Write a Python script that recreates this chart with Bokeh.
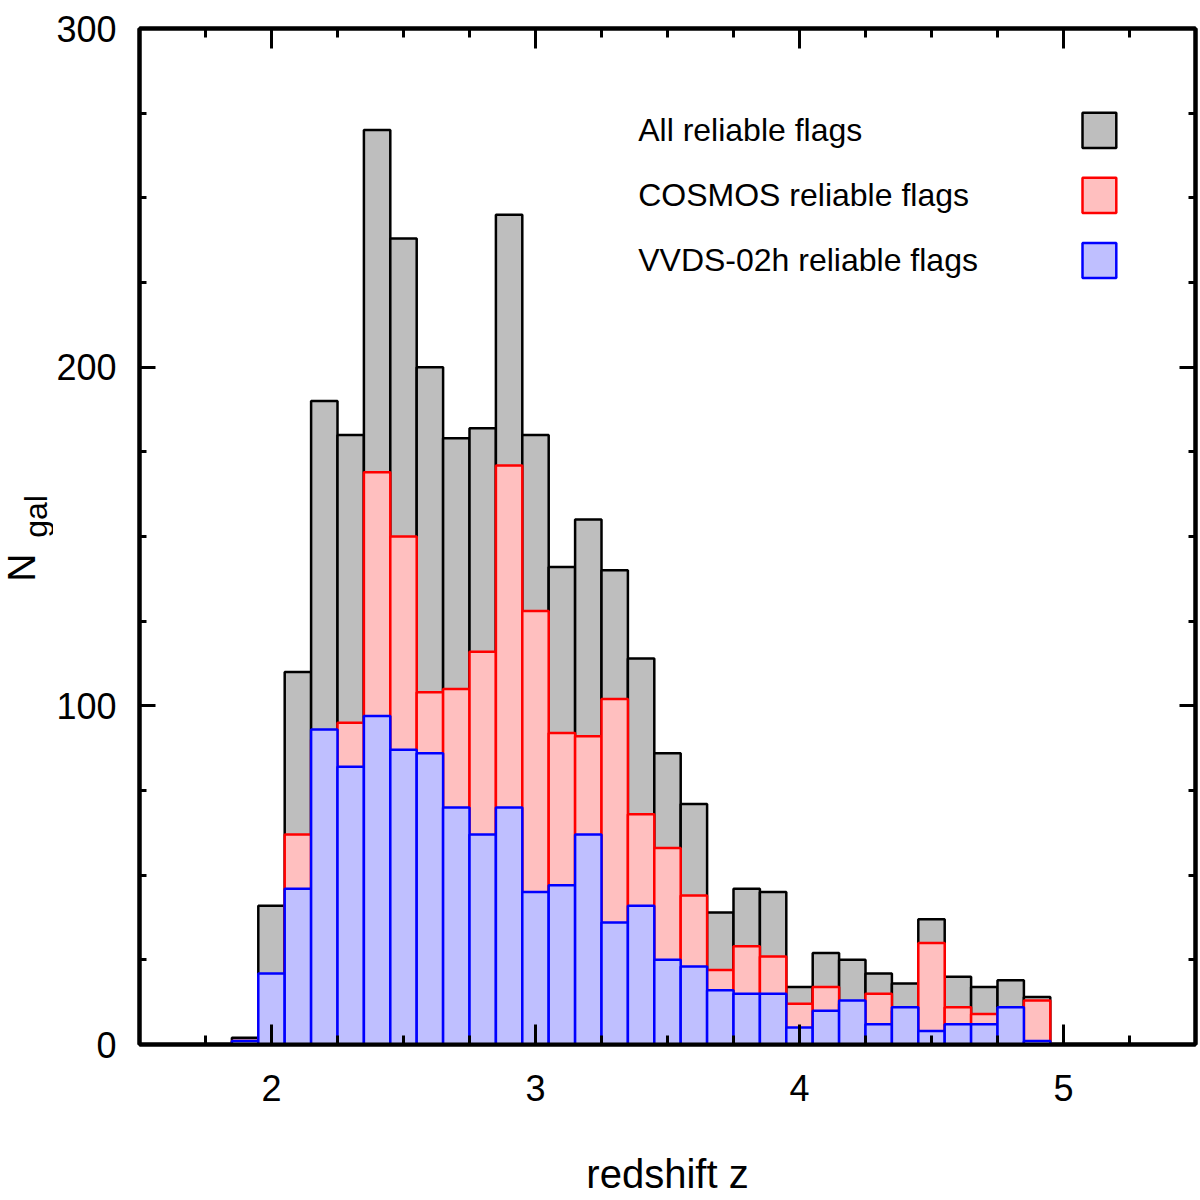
from math import pi

from bokeh.plotting import figure
from bokeh.layouts import row
from bokeh.models import (Range1d, SingleIntervalTicker, LinearAxis, Label, BoxAnnotation,
                          CustomJSTickFormatter)
from bokeh.core.properties import value
from bokeh.embed import file_html
from bokeh.resources import INLINE

# histogram bins (centres) in redshift, width 0.1
z_centres = [1.9, 2.0, 2.1, 2.2, 2.3, 2.4, 2.5, 2.6, 2.7, 2.8, 2.9,
             3.0, 3.1, 3.2, 3.3, 3.4, 3.5, 3.6, 3.7, 3.8, 3.9,
             4.0, 4.1, 4.2, 4.3, 4.4, 4.5, 4.6, 4.7, 4.8, 4.9]
bin_width = 0.1

n_all = [2, 41, 110, 190, 180, 270, 238, 200, 179, 182, 245,
         180, 141, 155, 140, 114, 86, 71, 39, 46, 45,
         17, 27, 25, 21, 18, 37, 20, 17, 19, 14]
n_cosmos = [1, 20, 62, 90, 95, 169, 150, 104, 105, 116, 171,
            128, 92, 91, 102, 68, 58, 44, 22, 29, 26,
            12, 17, 12, 15, 10, 30, 11, 9, 10, 13]
n_vvds = [1, 21, 46, 93, 82, 97, 87, 86, 70, 62, 70,
          45, 47, 62, 36, 41, 25, 23, 16, 15, 15,
          5, 10, 13, 6, 11, 4, 6, 6, 11, 1]

legend_labels = ["All reliable flags", "COSMOS reliable flags", "VVDS-02h reliable flags"]
fill_colors = ["#bebebe", "#ffbfbf", "#bfbfff"]
line_colors = ["black", "red", "blue"]

y_label_parts = ["N", "gal"]

FONT = "Liberation Sans"
W_TOTAL, H = 1198, 1198
TOP, BOTTOM = 28, H - 1044
STRIP_W = 53

left_edges = [z - bin_width / 2 for z in z_centres]
right_edges = [z + bin_width / 2 for z in z_centres]

p = figure(width=W_TOTAL - STRIP_W, height=H, x_range=Range1d(1.5, 5.5), y_range=Range1d(0, 300),
           output_backend="svg", toolbar_location=None,
           min_border_left=137 - STRIP_W, min_border_right=3,
           min_border_top=TOP, min_border_bottom=BOTTOM)
p.grid.grid_line_color = None
p.outline_line_color = "black"
p.outline_line_width = 4

# bars: all, then COSMOS, then VVDS on top
for counts, fc, lc in zip([n_all, n_cosmos, n_vvds], fill_colors, line_colors):
    p.quad(left=left_edges, right=right_edges, bottom=0, top=counts,
           fill_color=fc, line_color=lc, line_width=2.5)

x_ticker = SingleIntervalTicker(interval=1, num_minor_ticks=4)
y_ticker = SingleIntervalTicker(interval=100, num_minor_ticks=4)

p.below[0].ticker = x_ticker
p.left[0].ticker = y_ticker
blank = CustomJSTickFormatter(code="return ''")
p.add_layout(LinearAxis(ticker=x_ticker, formatter=blank, major_label_standoff=0), "above")
p.add_layout(LinearAxis(ticker=y_ticker, formatter=blank, major_label_standoff=0), "right")

for ax in p.xaxis + p.yaxis:
    ax.axis_line_width = 4
    ax.major_tick_line_width = 3
    ax.minor_tick_line_width = 3
    ax.major_tick_out = 0
    ax.minor_tick_out = 0
    ax.major_label_text_font = FONT
    ax.major_label_text_font_size = "36px"
    ax.major_label_text_color = "black"

for ax in p.xaxis:
    ax.major_tick_in = 20
    ax.minor_tick_in = 9
for ax in p.yaxis:
    ax.major_tick_in = 16
    ax.minor_tick_in = 7

xb = p.below[0]
xb.major_label_standoff = 30
xb.axis_label = "redshift z"
xb.axis_label_text_font = FONT
xb.axis_label_text_font_size = "40px"
xb.axis_label_text_font_style = "normal"
xb.axis_label_text_color = "black"
xb.axis_label_standoff = 48

p.left[0].major_label_standoff = 23

# key: label on the left, swatch on the right
for i, (lab, fc, lc) in enumerate(zip(legend_labels, fill_colors, line_colors)):
    yc = 269.9 - 19.2 * i
    p.add_layout(Label(x=3.389, y=yc, text=lab, text_align="left", text_baseline="middle",
                       text_font=FONT, text_font_size="32px", text_color="black"))
    p.add_layout(BoxAnnotation(left=5.072, right=5.2, bottom=yc - 5.2, top=yc + 5.2,
                               fill_color=fc, fill_alpha=1, line_color=lc, line_width=2.5,
                               line_alpha=1))

# narrow strip on the left carrying the rotated y label N_gal
s = figure(width=STRIP_W, height=H, x_range=Range1d(0, STRIP_W), y_range=Range1d(0, 300),
           output_backend="svg", toolbar_location=None, x_axis_type=None, y_axis_type=None,
           min_border_left=0, min_border_right=0, min_border_top=TOP, min_border_bottom=BOTTOM)
s.outline_line_color = None
s.grid.grid_line_color = None
s.text(x=[21], y=[140.8], text=[y_label_parts[0]], angle=pi / 2, text_align="center",
       text_baseline="middle", text_font=value(FONT), text_font_size="39px",
       text_color="black")
s.text(x=[35], y=[155.9], text=[y_label_parts[1]], angle=pi / 2, text_align="center",
       text_baseline="middle", text_font=value(FONT), text_font_size="32px",
       text_color="black")

layout = row(s, p, spacing=0)

open("out.html", "w").write(file_html(layout, INLINE))
